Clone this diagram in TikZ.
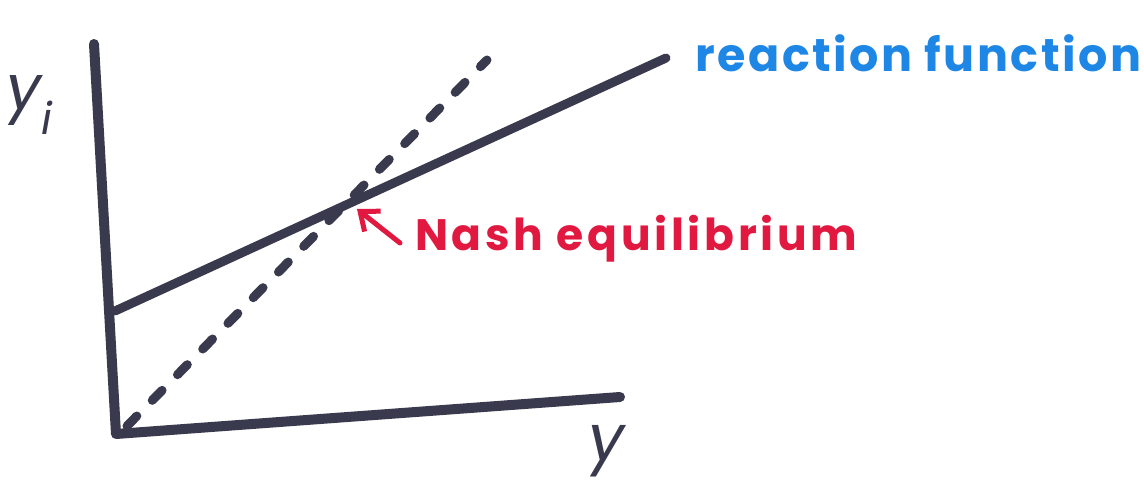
\documentclass[tikz,border=0pt]{standalone}
\usepackage{fontspec}
\setmainfont{Poppins}
\usetikzlibrary{arrows.meta}
\definecolor{ink}{RGB}{58,58,78}
\definecolor{redink}{RGB}{225,25,65}
\definecolor{blueink}{RGB}{30,135,230}
\tikzset{
  marker/.style={line width=10pt, draw=ink, line cap=round, line join=round},
  dashline/.style={marker, dash pattern=on 14pt off 22pt},
  lbl/.style={inner sep=0pt, anchor=base west},
}
\begin{document}
\begin{tikzpicture}[x=1pt,y=-1pt]
\useasboundingbox[fill=white] (0,0) rectangle (1144,500);
% coordinates
\coordinate (Ytop) at (94,44);
\coordinate (O) at (116,434);
\coordinate (Xend) at (620,397);
\coordinate (R0) at (115,311);
\coordinate (R1) at (666,58);
\coordinate (D0) at (127,426);
\coordinate (D1) at (487,60);
\coordinate (NE) at (357,209);
\coordinate (ns) at (400,243);
% axes
\draw[marker] (Ytop) -- (O) -- (Xend);
% reaction function
\draw[marker, line width=9pt] (R0) -- (R1);
% 45 degree dashed line
\draw[dashline, line width=9pt] (D0) -- (D1);
% labels
\node[lbl, text=ink, font=\fontsize{62}{66}\selectfont\itshape] (yi) at (6,110) {y\textsubscript{\fontsize{44}{48}\selectfont i}};
\node[lbl, text=ink, font=\fontsize{64}{68}\selectfont\itshape] (yx) at (588,460) {y};
\node[lbl, text=blueink, font=\fontsize{46}{52}\selectfont\bfseries\addfontfeature{LetterSpace=5.5}] (rf) at (695,72) {reaction function};
\node[lbl, text=redink, font=\fontsize{44}{50}\selectfont\bfseries\addfontfeature{LetterSpace=8.5}] (nash) at (415,250) {Nash equilibrium};
\draw[redink, line width=5pt, line cap=round, -{Straight Barb[length=16pt,width=26pt]}] (ns) -- (NE);
\end{tikzpicture}
\end{document}
